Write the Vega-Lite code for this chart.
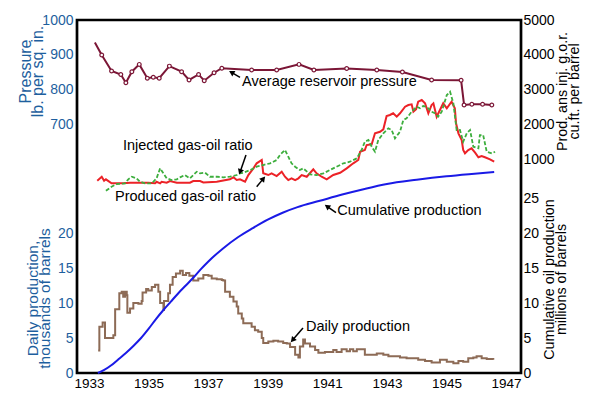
{
  "$schema": "https://vega.github.io/schema/vega-lite/v6.json",
  "width": 444,
  "height": 353,
  "autosize": {"type": "none"},
  "padding": {"left": 77, "top": 20, "right": 79, "bottom": 27},
  "background": "white",
  "config": {
    "font": "Liberation Sans",
    "view": {"stroke": "black", "strokeWidth": 2.7},
    "axis": {"domain": false, "ticks": false, "grid": false, "labelOverlap": false, "labelFont": "Liberation Sans", "titleFont": "Liberation Sans", "titleFontWeight": "normal"},
    "axisX": {"format": "d", "labelFontSize": 13.5, "labelColor": "black", "labelPadding": 3, "title": null},
    "text": {"fontSize": 14.5, "color": "black", "align": "left", "baseline": "middle"}
  },
  "datasets": {
    "pressure": [
      {"year": 1933.20, "p": 935}, {"year": 1933.43, "p": 899}, {"year": 1933.76, "p": 853}, {"year": 1934.07, "p": 843},
      {"year": 1934.24, "p": 819}, {"year": 1934.44, "p": 851}, {"year": 1934.69, "p": 872}, {"year": 1934.96, "p": 832},
      {"year": 1935.16, "p": 835}, {"year": 1935.36, "p": 832}, {"year": 1935.70, "p": 867}, {"year": 1936.11, "p": 851},
      {"year": 1936.36, "p": 827}, {"year": 1936.68, "p": 843}, {"year": 1936.87, "p": 825}, {"year": 1937.20, "p": 848},
      {"year": 1937.46, "p": 861}, {"year": 1938.46, "p": 856}, {"year": 1939.30, "p": 856}, {"year": 1940.05, "p": 872},
      {"year": 1940.55, "p": 856}, {"year": 1941.65, "p": 860}, {"year": 1942.66, "p": 856}, {"year": 1943.52, "p": 850},
      {"year": 1944.50, "p": 827}, {"year": 1945.49, "p": 826}, {"year": 1945.59, "p": 755}, {"year": 1945.85, "p": 757},
      {"year": 1946.21, "p": 757}, {"year": 1946.52, "p": 755}
    ],
    "daily": [
      {"year": 1933.31, "d": 3.2}, {"year": 1933.35, "d": 6.6}, {"year": 1933.46, "d": 7.2}, {"year": 1933.54, "d": 5.0},
      {"year": 1933.71, "d": 5.0}, {"year": 1933.82, "d": 5.4}, {"year": 1933.88, "d": 9.1}, {"year": 1933.95, "d": 9.1},
      {"year": 1934.02, "d": 11.4}, {"year": 1934.10, "d": 11.6}, {"year": 1934.15, "d": 10.9}, {"year": 1934.21, "d": 11.6},
      {"year": 1934.27, "d": 11.1}, {"year": 1934.29, "d": 8.6}, {"year": 1934.38, "d": 9.2}, {"year": 1934.49, "d": 10.0},
      {"year": 1934.66, "d": 9.9}, {"year": 1934.77, "d": 10.3}, {"year": 1934.80, "d": 11.5}, {"year": 1934.92, "d": 12.0},
      {"year": 1934.99, "d": 11.8}, {"year": 1935.11, "d": 12.3}, {"year": 1935.22, "d": 12.6}, {"year": 1935.33, "d": 11.6},
      {"year": 1935.39, "d": 10.0}, {"year": 1935.50, "d": 9.0}, {"year": 1935.52, "d": 10.3}, {"year": 1935.66, "d": 11.4},
      {"year": 1935.72, "d": 12.6}, {"year": 1935.81, "d": 13.7}, {"year": 1935.92, "d": 14.2}, {"year": 1936.06, "d": 14.6},
      {"year": 1936.15, "d": 14.0}, {"year": 1936.26, "d": 14.3}, {"year": 1936.37, "d": 13.9}, {"year": 1936.50, "d": 13.2},
      {"year": 1936.67, "d": 13.5}, {"year": 1936.84, "d": 14.0}, {"year": 1937.01, "d": 13.9}, {"year": 1937.12, "d": 13.5},
      {"year": 1937.29, "d": 13.4}, {"year": 1937.46, "d": 13.3}, {"year": 1937.51, "d": 13.2}, {"year": 1937.57, "d": 11.6},
      {"year": 1937.73, "d": 10.9}, {"year": 1937.85, "d": 10.2}, {"year": 1937.96, "d": 9.5}, {"year": 1938.01, "d": 8.5},
      {"year": 1938.13, "d": 7.8}, {"year": 1938.18, "d": 7.1}, {"year": 1938.35, "d": 7.1}, {"year": 1938.46, "d": 6.6},
      {"year": 1938.57, "d": 6.1}, {"year": 1938.68, "d": 5.9}, {"year": 1938.80, "d": 5.0}, {"year": 1938.85, "d": 4.3},
      {"year": 1939.02, "d": 4.5}, {"year": 1939.19, "d": 4.6}, {"year": 1939.35, "d": 4.5}, {"year": 1939.52, "d": 4.3},
      {"year": 1939.64, "d": 4.2}, {"year": 1939.75, "d": 3.7}, {"year": 1939.92, "d": 2.6}, {"year": 1940.03, "d": 2.2},
      {"year": 1940.08, "d": 3.8}, {"year": 1940.19, "d": 4.8}, {"year": 1940.25, "d": 4.2}, {"year": 1940.42, "d": 3.8},
      {"year": 1940.59, "d": 3.3}, {"year": 1940.70, "d": 2.9}, {"year": 1940.92, "d": 3.0}, {"year": 1941.20, "d": 3.3},
      {"year": 1941.31, "d": 3.0}, {"year": 1941.48, "d": 3.4}, {"year": 1941.65, "d": 3.1}, {"year": 1941.76, "d": 3.4},
      {"year": 1941.87, "d": 3.1}, {"year": 1941.99, "d": 3.4}, {"year": 1942.15, "d": 3.4}, {"year": 1942.26, "d": 2.6},
      {"year": 1942.43, "d": 2.6}, {"year": 1942.66, "d": 2.8}, {"year": 1942.88, "d": 2.6}, {"year": 1943.05, "d": 2.4},
      {"year": 1943.21, "d": 2.4}, {"year": 1943.44, "d": 2.2}, {"year": 1943.66, "d": 2.1}, {"year": 1943.89, "d": 2.1},
      {"year": 1944.05, "d": 1.9}, {"year": 1944.28, "d": 1.7}, {"year": 1944.50, "d": 1.5}, {"year": 1944.78, "d": 1.9},
      {"year": 1945.01, "d": 1.6}, {"year": 1945.23, "d": 1.4}, {"year": 1945.40, "d": 1.7}, {"year": 1945.56, "d": 1.6},
      {"year": 1945.73, "d": 2.1}, {"year": 1945.90, "d": 2.2}, {"year": 1946.01, "d": 2.4}, {"year": 1946.18, "d": 2.1},
      {"year": 1946.35, "d": 2.0}, {"year": 1946.57, "d": 1.9}
    ],
    "cumulative": [
      {"year": 1933.30, "c": 0}, {"year": 1933.50, "c": 0.4}, {"year": 1933.75, "c": 1.1}, {"year": 1934.00, "c": 2.0},
      {"year": 1934.25, "c": 2.9}, {"year": 1934.50, "c": 3.9}, {"year": 1934.75, "c": 5.0}, {"year": 1935.00, "c": 6.3},
      {"year": 1935.25, "c": 7.7}, {"year": 1935.50, "c": 9.0}, {"year": 1935.75, "c": 10.2}, {"year": 1936.00, "c": 11.4},
      {"year": 1936.25, "c": 12.5}, {"year": 1936.50, "c": 13.6}, {"year": 1936.75, "c": 14.8}, {"year": 1937.00, "c": 15.9},
      {"year": 1937.50, "c": 17.8}, {"year": 1938.00, "c": 19.4}, {"year": 1938.50, "c": 20.7}, {"year": 1939.00, "c": 21.9},
      {"year": 1939.50, "c": 22.9}, {"year": 1940.00, "c": 23.7}, {"year": 1940.75, "c": 24.6}, {"year": 1941.50, "c": 25.5},
      {"year": 1942.25, "c": 26.3}, {"year": 1943.00, "c": 27.0}, {"year": 1944.00, "c": 27.6}, {"year": 1945.00, "c": 28.1},
      {"year": 1945.75, "c": 28.4}, {"year": 1946.60, "c": 28.7}
    ],
    "produced": [
      {"year": 1933.28, "g": 375}, {"year": 1933.43, "g": 490}, {"year": 1933.51, "g": 375}, {"year": 1933.57, "g": 415},
      {"year": 1933.76, "g": 300}, {"year": 1934.15, "g": 300}, {"year": 1934.38, "g": 317}, {"year": 1934.99, "g": 317},
      {"year": 1935.22, "g": 300}, {"year": 1935.27, "g": 346}, {"year": 1935.39, "g": 300}, {"year": 1935.44, "g": 346},
      {"year": 1935.61, "g": 317}, {"year": 1935.72, "g": 366}, {"year": 1935.95, "g": 317}, {"year": 1936.39, "g": 317},
      {"year": 1936.50, "g": 366}, {"year": 1936.73, "g": 366}, {"year": 1936.84, "g": 326}, {"year": 1937.29, "g": 346},
      {"year": 1937.73, "g": 415}, {"year": 1937.85, "g": 473}, {"year": 1937.96, "g": 395}, {"year": 1938.07, "g": 415},
      {"year": 1938.24, "g": 346}, {"year": 1938.35, "g": 539}, {"year": 1938.52, "g": 732}, {"year": 1938.63, "g": 876},
      {"year": 1938.80, "g": 971}, {"year": 1938.85, "g": 588}, {"year": 1939.02, "g": 539}, {"year": 1939.13, "g": 588},
      {"year": 1939.30, "g": 510}, {"year": 1939.47, "g": 634}, {"year": 1939.58, "g": 490}, {"year": 1939.69, "g": 395},
      {"year": 1939.80, "g": 444}, {"year": 1939.92, "g": 395}, {"year": 1940.03, "g": 444}, {"year": 1940.14, "g": 539},
      {"year": 1940.31, "g": 490}, {"year": 1940.53, "g": 703}, {"year": 1940.64, "g": 588}, {"year": 1940.81, "g": 490},
      {"year": 1940.98, "g": 415}, {"year": 1941.20, "g": 539}, {"year": 1941.43, "g": 605}, {"year": 1941.65, "g": 732},
      {"year": 1941.87, "g": 876}, {"year": 1942.04, "g": 971}, {"year": 1942.10, "g": 1210}, {"year": 1942.26, "g": 1259},
      {"year": 1942.32, "g": 1402}, {"year": 1942.49, "g": 1423}, {"year": 1942.60, "g": 1739}, {"year": 1942.77, "g": 1785},
      {"year": 1942.88, "g": 1854}, {"year": 1942.99, "g": 2237}, {"year": 1943.10, "g": 2266}, {"year": 1943.21, "g": 2315},
      {"year": 1943.33, "g": 2217}, {"year": 1943.44, "g": 2315}, {"year": 1943.61, "g": 2505}, {"year": 1943.72, "g": 2554},
      {"year": 1943.83, "g": 2574}, {"year": 1943.89, "g": 2361}, {"year": 1943.98, "g": 2430}, {"year": 1944.05, "g": 2649},
      {"year": 1944.17, "g": 2698}, {"year": 1944.28, "g": 2603}, {"year": 1944.39, "g": 2315}, {"year": 1944.50, "g": 2554},
      {"year": 1944.56, "g": 2603}, {"year": 1944.67, "g": 2217}, {"year": 1944.78, "g": 2410}, {"year": 1944.89, "g": 2603},
      {"year": 1945.01, "g": 2459}, {"year": 1945.17, "g": 2649}, {"year": 1945.28, "g": 2459}, {"year": 1945.32, "g": 2027},
      {"year": 1945.40, "g": 1739}, {"year": 1945.51, "g": 1546}, {"year": 1945.56, "g": 1259}, {"year": 1945.62, "g": 1164},
      {"year": 1945.73, "g": 1259}, {"year": 1945.84, "g": 1308}, {"year": 1945.96, "g": 1181}, {"year": 1946.07, "g": 1049},
      {"year": 1946.18, "g": 1086}, {"year": 1946.29, "g": 1049}, {"year": 1946.46, "g": 991}, {"year": 1946.60, "g": 922}
    ],
    "injected": [
      {"year": 1933.57, "g": 87}, {"year": 1933.76, "g": 202}, {"year": 1933.93, "g": 280}, {"year": 1934.21, "g": 300},
      {"year": 1934.32, "g": 415}, {"year": 1934.44, "g": 490}, {"year": 1934.60, "g": 444}, {"year": 1934.71, "g": 346},
      {"year": 1934.88, "g": 300}, {"year": 1935.11, "g": 300}, {"year": 1935.27, "g": 444}, {"year": 1935.39, "g": 732},
      {"year": 1935.50, "g": 588}, {"year": 1935.61, "g": 444}, {"year": 1935.78, "g": 395}, {"year": 1935.95, "g": 415},
      {"year": 1936.06, "g": 473}, {"year": 1936.22, "g": 539}, {"year": 1936.39, "g": 444}, {"year": 1936.62, "g": 634},
      {"year": 1936.73, "g": 588}, {"year": 1936.90, "g": 605}, {"year": 1937.06, "g": 490}, {"year": 1937.29, "g": 490},
      {"year": 1937.51, "g": 473}, {"year": 1937.73, "g": 490}, {"year": 1937.96, "g": 539}, {"year": 1938.07, "g": 588},
      {"year": 1938.18, "g": 605}, {"year": 1938.41, "g": 680}, {"year": 1938.63, "g": 778}, {"year": 1938.85, "g": 827},
      {"year": 1939.08, "g": 876}, {"year": 1939.19, "g": 922}, {"year": 1939.30, "g": 971}, {"year": 1939.41, "g": 1115},
      {"year": 1939.58, "g": 1259}, {"year": 1939.69, "g": 1066}, {"year": 1939.80, "g": 876}, {"year": 1939.92, "g": 778},
      {"year": 1940.08, "g": 683}, {"year": 1940.19, "g": 732}, {"year": 1940.42, "g": 560}, {"year": 1940.64, "g": 539},
      {"year": 1940.87, "g": 588}, {"year": 1941.09, "g": 683}, {"year": 1941.31, "g": 778}, {"year": 1941.54, "g": 876},
      {"year": 1941.76, "g": 922}, {"year": 1941.99, "g": 1020}, {"year": 1942.15, "g": 1259}, {"year": 1942.26, "g": 1498},
      {"year": 1942.38, "g": 1546}, {"year": 1942.49, "g": 1354}, {"year": 1942.60, "g": 1210}, {"year": 1942.71, "g": 1546},
      {"year": 1942.88, "g": 1739}, {"year": 1943.05, "g": 1883}, {"year": 1943.16, "g": 1834}, {"year": 1943.27, "g": 1595},
      {"year": 1943.44, "g": 1785}, {"year": 1943.55, "g": 2122}, {"year": 1943.66, "g": 2171}, {"year": 1943.83, "g": 2361},
      {"year": 1944.00, "g": 2505}, {"year": 1944.11, "g": 2459}, {"year": 1944.22, "g": 2525}, {"year": 1944.33, "g": 2505},
      {"year": 1944.50, "g": 2361}, {"year": 1944.61, "g": 2315}, {"year": 1944.72, "g": 2217}, {"year": 1944.84, "g": 2361},
      {"year": 1945.01, "g": 2842}, {"year": 1945.12, "g": 2937}, {"year": 1945.23, "g": 2603}, {"year": 1945.34, "g": 1834},
      {"year": 1945.45, "g": 1834}, {"year": 1945.56, "g": 1498}, {"year": 1945.68, "g": 1739}, {"year": 1945.79, "g": 1834},
      {"year": 1945.90, "g": 1354}, {"year": 1946.07, "g": 1308}, {"year": 1946.12, "g": 1690}, {"year": 1946.23, "g": 1690},
      {"year": 1946.35, "g": 1210}, {"year": 1946.52, "g": 1164}, {"year": 1946.63, "g": 1210}
    ],
    "pressureNote": [{"year": 1938.14, "p": 821, "year2": 1937.785, "p2": 849.1, "ystart": 1938.07, "pstart": 834.7, "label": "Average reservoir pressure"}],
    "gorNotes": [
      {"year": 1934.14, "g": 1374, "label": "Injected gas-oil ratio", "ystart": 1938.271, "gstart": 1115, "year2": 1938.073, "g2": 628},
      {"year": 1933.875, "g": -94, "label": "Produced gas-oil ratio", "ystart": 1938.630, "gstart": 202, "year2": 1938.855, "g2": 436}
    ],
    "cumNote": [{"year": 1941.335, "c": 23.14, "label": "Cumulative production", "ystart": 1941.291, "cstart": 22.9, "year2": 1940.991, "c2": 23.8}],
    "dailyNote": [{"year": 1940.285, "d": 6.61, "label": "Daily production", "ystart": 1940.184, "dstart": 6.43, "year2": 1939.835, "d2": 4.7}]
  },
  "resolve": {"scale": {"y": "independent"}, "axis": {"y": "independent", "x": "shared"}},
  "encoding": {
    "x": {"field": "year", "type": "quantitative", "scale": {"domain": [1932.6, 1947.5], "nice": false, "zero": false},
      "axis": {"labelExpr": "datum.value % 2 == 1 ? datum.label : ''"}}
  },
  "layer": [
    {
      "data": {"name": "daily"},
      "mark": {"type": "line", "color": "#8d6b56", "strokeWidth": 2, "interpolate": "step-after"},
      "encoding": {
        "y": {"field": "d", "type": "quantitative", "scale": {"domain": [0, 50.43], "nice": false, "zero": false},
          "axis": {"orient": "left", "values": [0, 5, 10, 15, 20], "labelFontSize": 14, "labelColor": "#1e5f9e", "labelPadding": 4,
            "title": ["Daily production,", "thousands of barrels"], "titleColor": "#1e5f9e", "titleFontSize": 15.5, "titleAngle": 270, "titleX": -45, "titleY": 278, "titleAlign": "center", "titleBaseline": "middle", "titleLineHeight": 12}}
      }
    },
    {
      "data": {"name": "cumulative"},
      "mark": {"type": "line", "color": "#1a1ae6", "strokeWidth": 2, "interpolate": "monotone"},
      "encoding": {
        "y": {"field": "c", "type": "quantitative", "scale": {"domain": [0, 50.43], "nice": false, "zero": false},
          "axis": {"orient": "right", "values": [0, 5, 10, 15, 20, 25], "labelFontSize": 14, "labelColor": "black", "labelPadding": 2,
            "title": ["Cumulative oil production", "millions of barrels"], "titleColor": "black", "titleFontSize": 14.3, "titleAngle": 270, "titleX": 28.5, "titleY": 259, "titleAlign": "center", "titleBaseline": "middle", "titleLineHeight": 12}}
      }
    },
    {
      "data": {"name": "produced"},
      "mark": {"type": "line", "color": "#ec2227", "strokeWidth": 2},
      "encoding": {
        "y": {"field": "g", "type": "quantitative", "scale": {"domain": [-5158, 5000], "nice": false, "zero": false},
          "axis": {"orient": "right", "values": [1000, 2000, 3000, 4000, 5000], "format": "d", "labelFontSize": 14, "labelColor": "black", "labelPadding": 2,
            "title": ["Prod. ans inj. g.o.r.", "cu.ft. per barrel"], "titleColor": "black", "titleFontSize": 14.3, "titleAngle": 270, "titleX": 41.5, "titleY": 71, "titleAlign": "center", "titleBaseline": "middle", "titleLineHeight": 12}}
      }
    },
    {
      "data": {"name": "injected"},
      "mark": {"type": "line", "color": "#3dae3d", "strokeWidth": 1.8, "strokeDash": [4, 2]},
      "encoding": {
        "y": {"field": "g", "type": "quantitative", "scale": {"domain": [-5158, 5000], "nice": false, "zero": false}, "axis": null}
      }
    },
    {
      "data": {"name": "pressure"},
      "mark": {"type": "line", "color": "#7b1636", "strokeWidth": 2},
      "encoding": {
        "y": {"field": "p", "type": "quantitative", "scale": {"domain": [-18, 1000], "nice": false, "zero": false},
          "axis": {"orient": "left", "values": [700, 800, 900, 1000], "format": "d", "labelFontSize": 14, "labelColor": "#1e5f9e", "labelPadding": 4,
            "title": ["Pressure", "lb. per sq. in."], "titleColor": "#1e5f9e", "titleFontSize": 16, "titleAngle": 270, "titleX": -51.5, "titleY": 51, "titleAlign": "center", "titleBaseline": "middle", "titleLineHeight": 12}}
      }
    },
    {
      "data": {"name": "pressure"},
      "transform": [{"filter": "datum.year > 1933.3"}],
      "mark": {"type": "point", "filled": true, "fill": "white", "stroke": "#7b1636", "strokeWidth": 1.2, "size": 14, "opacity": 1},
      "encoding": {
        "y": {"field": "p", "type": "quantitative", "scale": {"domain": [-18, 1000], "nice": false, "zero": false}, "axis": null}
      }
    },
    {
      "data": {"name": "pressureNote"},
      "mark": {"type": "text"},
      "encoding": {
        "y": {"field": "p", "type": "quantitative", "scale": {"domain": [-18, 1000], "nice": false, "zero": false}, "axis": null},
        "text": {"field": "label"}
      }
    },
    {
      "data": {"name": "pressureNote"},
      "mark": {"type": "rule", "color": "black", "strokeWidth": 1.5},
      "encoding": {
        "x": {"field": "ystart", "type": "quantitative", "scale": {"domain": [1932.6, 1947.5], "nice": false, "zero": false}},
        "y": {"field": "pstart", "type": "quantitative", "scale": {"domain": [-18, 1000], "nice": false, "zero": false}, "axis": null},
        "x2": {"field": "year2"},
        "y2": {"field": "p2"}
      }
    },
    {
      "data": {"name": "pressureNote"},
      "mark": {"type": "point", "shape": "triangle-up", "filled": true, "color": "black", "size": 40, "angle": 300, "opacity": 1},
      "encoding": {
        "x": {"field": "year2", "type": "quantitative", "scale": {"domain": [1932.6, 1947.5], "nice": false, "zero": false}},
        "y": {"field": "p2", "type": "quantitative", "scale": {"domain": [-18, 1000], "nice": false, "zero": false}, "axis": null}
      }
    },
    {
      "data": {"name": "gorNotes"},
      "mark": {"type": "text"},
      "encoding": {
        "y": {"field": "g", "type": "quantitative", "scale": {"domain": [-5158, 5000], "nice": false, "zero": false}, "axis": null},
        "text": {"field": "label"}
      }
    },
    {
      "data": {"name": "gorNotes"},
      "mark": {"type": "rule", "color": "black", "strokeWidth": 1.5},
      "encoding": {
        "x": {"field": "ystart", "type": "quantitative", "scale": {"domain": [1932.6, 1947.5], "nice": false, "zero": false}},
        "y": {"field": "gstart", "type": "quantitative", "scale": {"domain": [-5158, 5000], "nice": false, "zero": false}, "axis": null},
        "x2": {"field": "year2"},
        "y2": {"field": "g2"}
      }
    },
    {
      "data": {"name": "gorNotes"},
      "transform": [{"filter": "datum.label == 'Injected gas-oil ratio'"}],
      "mark": {"type": "point", "shape": "triangle-up", "filled": true, "color": "black", "size": 40, "angle": 199, "opacity": 1},
      "encoding": {
        "x": {"field": "year2", "type": "quantitative", "scale": {"domain": [1932.6, 1947.5], "nice": false, "zero": false}},
        "y": {"field": "g2", "type": "quantitative", "scale": {"domain": [-5158, 5000], "nice": false, "zero": false}, "axis": null}
      }
    },
    {
      "data": {"name": "gorNotes"},
      "transform": [{"filter": "datum.label == 'Produced gas-oil ratio'"}],
      "mark": {"type": "point", "shape": "triangle-up", "filled": true, "color": "black", "size": 40, "angle": 40, "opacity": 1},
      "encoding": {
        "x": {"field": "year2", "type": "quantitative", "scale": {"domain": [1932.6, 1947.5], "nice": false, "zero": false}},
        "y": {"field": "g2", "type": "quantitative", "scale": {"domain": [-5158, 5000], "nice": false, "zero": false}, "axis": null}
      }
    },
    {
      "data": {"name": "cumNote"},
      "mark": {"type": "text"},
      "encoding": {
        "y": {"field": "c", "type": "quantitative", "scale": {"domain": [0, 50.43], "nice": false, "zero": false}, "axis": null},
        "text": {"field": "label"}
      }
    },
    {
      "data": {"name": "cumNote"},
      "mark": {"type": "rule", "color": "black", "strokeWidth": 1.5},
      "encoding": {
        "x": {"field": "ystart", "type": "quantitative", "scale": {"domain": [1932.6, 1947.5], "nice": false, "zero": false}},
        "y": {"field": "cstart", "type": "quantitative", "scale": {"domain": [0, 50.43], "nice": false, "zero": false}, "axis": null},
        "x2": {"field": "year2"},
        "y2": {"field": "c2"}
      }
    },
    {
      "data": {"name": "cumNote"},
      "mark": {"type": "point", "shape": "triangle-up", "filled": true, "color": "black", "size": 40, "angle": 305, "opacity": 1},
      "encoding": {
        "x": {"field": "year2", "type": "quantitative", "scale": {"domain": [1932.6, 1947.5], "nice": false, "zero": false}},
        "y": {"field": "c2", "type": "quantitative", "scale": {"domain": [0, 50.43], "nice": false, "zero": false}, "axis": null}
      }
    },
    {
      "data": {"name": "dailyNote"},
      "mark": {"type": "text"},
      "encoding": {
        "y": {"field": "d", "type": "quantitative", "scale": {"domain": [0, 50.43], "nice": false, "zero": false}, "axis": null},
        "text": {"field": "label"}
      }
    },
    {
      "data": {"name": "dailyNote"},
      "mark": {"type": "rule", "color": "black", "strokeWidth": 1.5},
      "encoding": {
        "x": {"field": "ystart", "type": "quantitative", "scale": {"domain": [1932.6, 1947.5], "nice": false, "zero": false}},
        "y": {"field": "dstart", "type": "quantitative", "scale": {"domain": [0, 50.43], "nice": false, "zero": false}, "axis": null},
        "x2": {"field": "year2"},
        "y2": {"field": "d2"}
      }
    },
    {
      "data": {"name": "dailyNote"},
      "mark": {"type": "point", "shape": "triangle-up", "filled": true, "color": "black", "size": 40, "angle": 221, "opacity": 1},
      "encoding": {
        "x": {"field": "year2", "type": "quantitative", "scale": {"domain": [1932.6, 1947.5], "nice": false, "zero": false}},
        "y": {"field": "d2", "type": "quantitative", "scale": {"domain": [0, 50.43], "nice": false, "zero": false}, "axis": null}
      }
    }
  ]
}
